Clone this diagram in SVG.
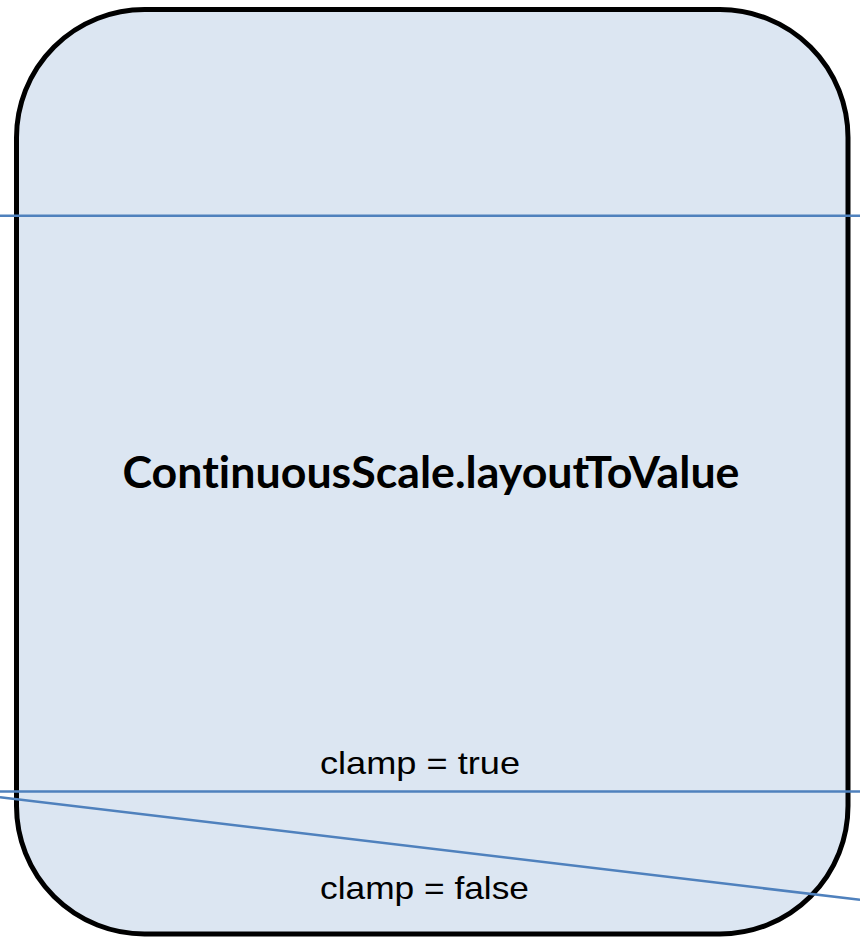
<svg xmlns="http://www.w3.org/2000/svg" width="860" height="937" viewBox="0 0 860 937">
  <style>
    .node-box { fill: #DCE6F2; stroke: #000000; stroke-width: 5; }
    .node-title { font-family: Lato, "Open Sans", "Liberation Sans", sans-serif; font-weight: bold; font-size: 43px; fill: #000000; font-variant-ligatures: none; font-feature-settings: "liga" 0, "clig" 0; }
    .edge { stroke: #4F81BD; stroke-width: 2.5; fill: none; }
    .edge-label { font-family: "Liberation Sans", Arial, sans-serif; font-size: 32px; fill: #000000; }
  </style>

  <!-- Main function node -->
  <g id="layout-to-value">
    <rect class="node-box" x="16.5" y="9.5" width="831.5" height="924.5" rx="128" ry="128"/>
    <text class="node-title" x="122.5" y="488" textLength="617" lengthAdjust="spacingAndGlyphs">ContinuousScale.layoutToValue</text>
  </g>

  <!-- Mapping lines crossing the node -->
  <g id="connectors">
    <line class="edge" x1="0" y1="215.8" x2="860" y2="215.8"/>
    <line class="edge" x1="0" y1="791.5" x2="860" y2="791.5"/>
    <line class="edge" x1="0" y1="797.3" x2="860" y2="899.8"/>
    <text class="edge-label" x="320" y="774" textLength="200" lengthAdjust="spacingAndGlyphs">clamp = true</text>
    <text class="edge-label" x="320" y="899" textLength="209" lengthAdjust="spacingAndGlyphs">clamp = false</text>
  </g>
</svg>
